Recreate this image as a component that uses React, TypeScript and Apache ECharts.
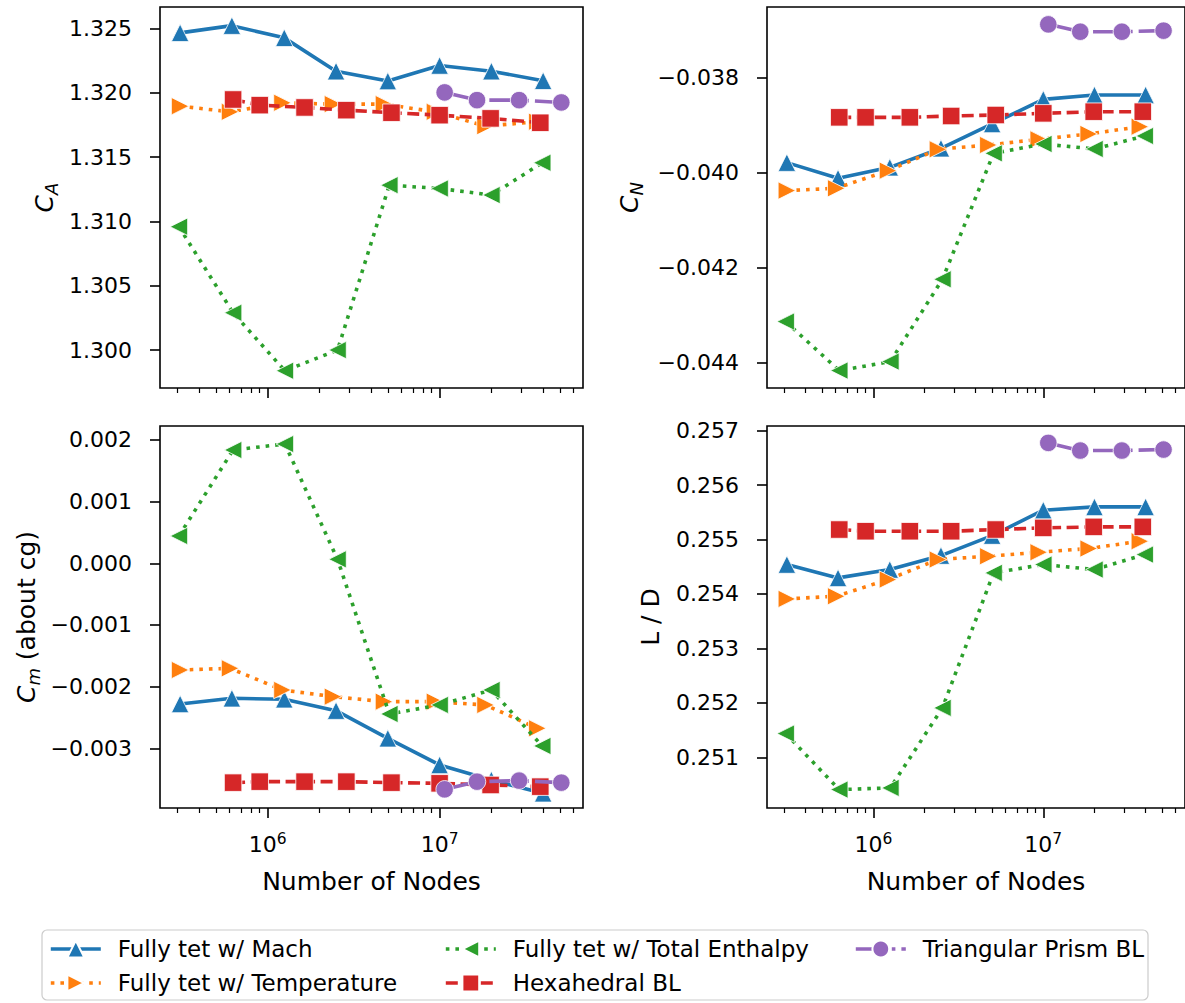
import React, { useEffect, useRef } from 'react';
import * as echarts from 'echarts';

const FONT = '"DejaVu Sans", Verdana, sans-serif';

const seriesNames = [
  'Fully tet w/ Mach',
  'Fully tet w/ Temperature',
  'Fully tet w/ Total Enthalpy',
  'Hexahedral BL',
  'Triangular Prism BL',
];

// Number of nodes per mesh family
const nodesMach = [3.1e5, 6.2e5, 1.25e6, 2.5e6, 5.0e6, 1.0e7, 2.0e7, 4.0e7];
const nodesTemp = [3.1e5, 6.05e5, 1.22e6, 2.4e6, 4.75e6, 9.4e6, 1.85e7, 3.7e7];
const nodesEnth = [3.05e5, 6.3e5, 1.26e6, 2.55e6, 5.1e6, 1.0e7, 2.0e7, 3.95e7];
const nodesHex = [6.3e5, 9.0e5, 1.64e6, 2.87e6, 5.25e6, 1.0e7, 1.98e7, 3.85e7];
const nodesPrism = [1.07e7, 1.65e7, 2.9e7, 5.1e7];

// C_A
const caMach = [1.32466, 1.32522, 1.32427, 1.32168, 1.32091, 1.32212, 1.32168, 1.32093];
const caTemp = [1.31896, 1.31852, 1.31922, 1.31912, 1.31912, 1.31852, 1.31741, 1.31775];
const caEnth = [1.30959, 1.3029, 1.29839, 1.3, 1.31282, 1.31256, 1.31205, 1.31456];
const caHex = [1.31948, 1.31904, 1.31886, 1.31865, 1.31845, 1.31826, 1.31801, 1.31767];
const caPrism = [1.32003, 1.31943, 1.31943, 1.31925];

// C_N
const cnMach = [-0.039791, -0.040122, -0.03989, -0.039489, -0.038976, -0.038457, -0.038365, -0.038365];
const cnTemp = [-0.040381, -0.040332, -0.03996, -0.03951, -0.039419, -0.0393, -0.039187, -0.039033];
const cnEnth = [-0.043142, -0.044175, -0.043985, -0.04225, -0.039595, -0.039398, -0.039503, -0.039229];
const cnHex = [-0.038836, -0.038836, -0.038836, -0.038808, -0.038787, -0.038752, -0.038717, -0.038717];
const cnPrism = [-0.036876, -0.037031, -0.037031, -0.037009];

// C_m (about cg)
const cmMach = [-0.002281, -0.002189, -0.002205, -0.002389, -0.002838, -0.00327, -0.003514, -0.00373];
const cmTemp = [-0.00173, -0.001703, -0.002054, -0.002162, -0.002243, -0.002243, -0.002297, -0.002676];
const cmEnth = [0.000443, 0.001838, 0.001935, 0.000065, -0.002443, -0.002297, -0.002054, -0.002962];
const cmHex = [-0.003557, -0.003541, -0.003541, -0.003541, -0.003557, -0.003568, -0.003595, -0.003622];
const cmPrism = [-0.003665, -0.003541, -0.003524, -0.003557];

// L / D
const ldMach = [0.254541, 0.254296, 0.254449, 0.254706, 0.255073, 0.255539, 0.2556, 0.2556];
const ldTemp = [0.25391, 0.253959, 0.254265, 0.254633, 0.254694, 0.254767, 0.254835, 0.254969];
const ldEnth = [0.251436, 0.250407, 0.250438, 0.251908, 0.254388, 0.254541, 0.254449, 0.254724];
const ldHex = [0.255184, 0.255153, 0.255153, 0.255153, 0.255184, 0.255214, 0.255233, 0.255233];
const ldPrism = [0.256776, 0.256635, 0.256635, 0.256653];

// Tick values
const caTicks = [1.3, 1.305, 1.31, 1.315, 1.32, 1.325];
const cnTicks = [-0.044, -0.042, -0.04, -0.038];
const cmTicks = [-0.003, -0.002, -0.001, 0, 0.001, 0.002];
const ldTicks = [0.251, 0.252, 0.253, 0.254, 0.255, 0.256, 0.257];
const xMajorTicks = [1e6, 1e7];
const xMinorTicks = [3e5, 4e5, 5e5, 6e5, 7e5, 8e5, 9e5, 2e6, 3e6, 4e6, 5e6, 6e6, 7e6, 8e6, 9e6, 2e7, 3e7, 4e7, 5e7, 6e7];

// Axis limits
const xRange = [2.368e5, 6.82e7];
const caRange = [1.29705, 1.32667];
const cnRange = [-0.044542, -0.03651];
const cmRange = [-0.003968, 0.002227];
const ldRange = [0.250069, 0.257086];

const nodeSets = [nodesMach, nodesTemp, nodesEnth, nodesHex, nodesPrism];

const seriesStyles = [
  { color: '#1f77b4', symbol: 'triangle', rotate: 0, dash: 'solid' as any },
  { color: '#ff7f0e', symbol: 'triangle', rotate: -90, dash: [3.6, 6] },
  { color: '#2ca02c', symbol: 'triangle', rotate: 90, dash: [3.6, 6] },
  { color: '#d62728', symbol: 'rect', rotate: 0, dash: [12, 5.5] },
  { color: '#9467bd', symbol: 'circle', rotate: 0, dash: [30, 6, 3.6, 6] },
];

const panels = [
  { values: [caMach, caTemp, caEnth, caHex, caPrism], ticks: caTicks, range: caRange, grid: { left: 160, top: 7, width: 423, height: 381 } },
  { values: [cnMach, cnTemp, cnEnth, cnHex, cnPrism], ticks: cnTicks, range: cnRange, grid: { left: 767, top: 7, width: 423, height: 381 } },
  { values: [cmMach, cmTemp, cmEnth, cmHex, cmPrism], ticks: cmTicks, range: cmRange, grid: { left: 160, top: 426, width: 423, height: 382 } },
  { values: [ldMach, ldTemp, ldEnth, ldHex, ldPrism], ticks: ldTicks, range: ldRange, grid: { left: 767, top: 426, width: 423, height: 382 } },
];

// legend placement: [left, top] for each series' legend entry
const legendSlots = [
  [49, 936],
  [49, 970],
  [444, 936],
  [444, 970],
  [854, 936],
];

const fmtY = (v: number) => (v < -1e-12 ? '\u2212' : '') + Math.abs(v).toFixed(3);

const nameRich = {
  c: { fontSize: 25, fontStyle: 'italic', fontFamily: FONT, fill: '#000', lineHeight: 32 },
  s: { fontSize: 18, fontStyle: 'italic', fontFamily: FONT, fill: '#000', lineHeight: 18, verticalAlign: 'bottom' },
  n: { fontSize: 25, fontFamily: FONT, fill: '#000', lineHeight: 32 },
};

function buildOption() {
  const tickLine = { color: '#000', width: 1.6 };
  const grid = panels.map((p) => ({
    ...p.grid,
    containLabel: false,
    show: true,
    borderColor: '#000',
    borderWidth: 1.6,
    backgroundColor: 'transparent',
  }));

  const xAxis: any[] = [];
  const yAxis: any[] = [];
  panels.forEach((p, i) => {
    const bottomRow = i >= 2;
    xAxis.push({
      type: 'log',
      gridIndex: i,
      min: xRange[0],
      max: xRange[1],
      position: 'bottom',
      axisLine: { show: false },
      axisTick: { show: false },
      axisLabel: { show: false },
      splitLine: { show: false },
      minorTick: { show: false },
      minorSplitLine: { show: false },
      name: bottomRow ? 'Number of Nodes' : '',
      nameLocation: 'middle',
      nameGap: 61,
      nameTextStyle: { fontSize: 25, color: '#000', fontFamily: FONT },
    });
    xAxis.push({
      type: 'value',
      gridIndex: i,
      min: Math.log10(xRange[0]),
      max: Math.log10(xRange[1]),
      position: 'bottom',
      axisLine: { show: false, onZero: false },
      splitLine: { show: false },
      axisTick: { show: true, customValues: xMajorTicks.map((t) => Math.log10(t)), length: 10, lineStyle: tickLine },
      axisLabel: {
        show: bottomRow,
        customValues: xMajorTicks.map((t) => Math.log10(t)),
        margin: 23,
        formatter: (v: number) => `{b|10}{e|${Math.round(v)}}`,
        rich: {
          b: { fontSize: 22, fontFamily: FONT, color: '#000', lineHeight: 26 },
          e: { fontSize: 15.5, fontFamily: FONT, color: '#000', lineHeight: 16, verticalAlign: 'top' },
        },
      },
    });
    xAxis.push({
      type: 'value',
      gridIndex: i,
      min: Math.log10(xRange[0]),
      max: Math.log10(xRange[1]),
      position: 'bottom',
      axisLine: { show: false, onZero: false },
      splitLine: { show: false },
      axisTick: { show: true, customValues: xMinorTicks.map((t) => Math.log10(t)), length: 5, lineStyle: { color: '#000', width: 1.2 } },
      axisLabel: { show: false },
    });
    yAxis.push({
      type: 'value',
      gridIndex: i,
      min: p.range[0],
      max: p.range[1],
      position: 'left',
      axisLine: { show: false, onZero: false },
      splitLine: { show: false },
      axisTick: { show: true, customValues: p.ticks, length: 10, lineStyle: tickLine },
      axisLabel: {
        customValues: p.ticks,
        formatter: fmtY,
        margin: 28,
        fontSize: 22,
        color: '#000',
        fontFamily: FONT,
      },
    });
  });

  const series: any[] = [];
  panels.forEach((p, i) => {
    p.values.forEach((vals, k) => {
      const st = seriesStyles[k];
      const xs = nodeSets[k];
      series.push({
        type: 'line',
        name: seriesNames[k],
        xAxisIndex: i * 3,
        yAxisIndex: i,
        data: vals.map((v, j) => [xs[j], v]),
        symbol: st.symbol,
        symbolSize: 17.5,
        symbolRotate: st.rotate,
        showAllSymbol: true,
        lineStyle: { color: st.color, width: 3.6, type: st.dash, cap: 'butt' },
        itemStyle: { color: st.color, borderColor: '#ffffff', borderWidth: 0.8 },
        emphasis: { disabled: true },
        z: 2 + k,
      });
    });
  });

  const legend = seriesNames.map((nm, k) => ({
    orient: 'horizontal',
    left: legendSlots[k][0],
    top: legendSlots[k][1],
    padding: 0,
    itemWidth: 50,
    itemHeight: 21,
    itemGap: 0,
    selectedMode: false,
    lineStyle: { width: 3.6 },
    textStyle: { fontSize: 23, color: '#000', fontFamily: FONT, padding: [0, 0, 0, 12], lineHeight: 26 },
    data: [nm],
  }));

  const graphic: any[] = [
    {
      type: 'rect',
      shape: { x: 42, y: 930, width: 1106, height: 70, r: 5 },
      style: { fill: 'none', stroke: '#cccccc', lineWidth: 1.2 },
      z: 0,
    },
    { type: 'text', x: 44, y: 197.5, rotation: Math.PI / 2, style: { text: '{c|C}{s|A}', rich: nameRich, align: 'center', verticalAlign: 'middle' } },
    { type: 'text', x: 629, y: 197.5, rotation: Math.PI / 2, style: { text: '{c|C}{s|N}', rich: nameRich, align: 'center', verticalAlign: 'middle' } },
    { type: 'text', x: 26, y: 617, rotation: Math.PI / 2, style: { text: '{c|C}{s|m}{n| (about cg)}', rich: nameRich, align: 'center', verticalAlign: 'middle' } },
    { type: 'text', x: 650, y: 617, rotation: Math.PI / 2, style: { text: '{n|L / D}', rich: nameRich, align: 'center', verticalAlign: 'middle' } },
  ];

  return {
    animation: false,
    backgroundColor: '#fff',
    textStyle: { fontFamily: FONT },
    grid,
    xAxis,
    yAxis,
    series,
    legend,
    graphic,
  };
}

export default function App() {
  const ref = useRef<HTMLDivElement>(null);
  useEffect(() => {
    if (!ref.current) return;
    const chart = echarts.init(ref.current, undefined, { renderer: 'svg' });
    chart.setOption(buildOption() as any);
    return () => chart.dispose();
  }, []);
  return <div ref={ref} style={{ position: 'absolute', left: 0, top: 0, width: 1185, height: 1003 }} />;
}
